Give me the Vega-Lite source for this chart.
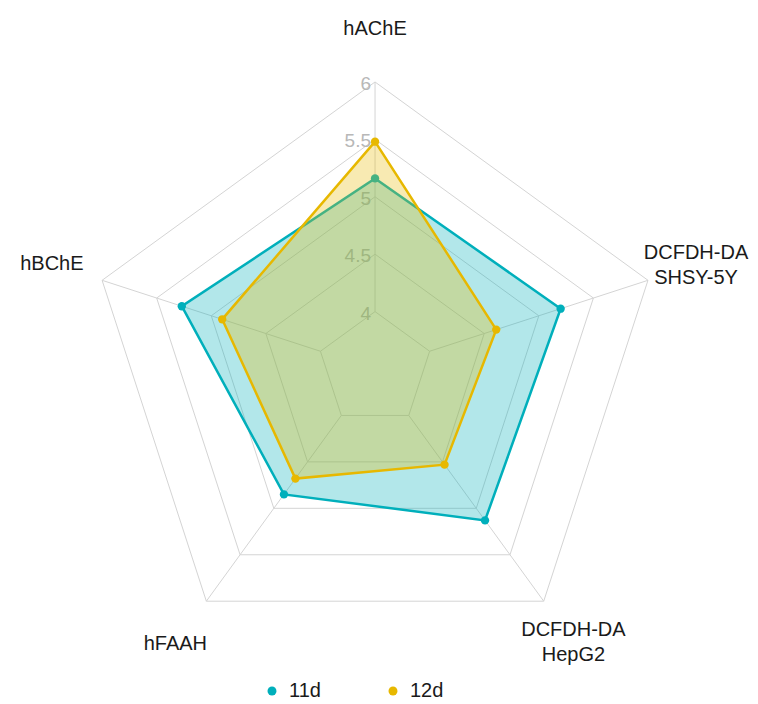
{
  "$schema": "https://vega.github.io/schema/vega-lite/v6.json",
  "width": 758,
  "height": 704,
  "padding": 0,
  "autosize": "none",
  "config": {"view": {"stroke": null}, "font": "Liberation Sans"},
  "datasets": {
    "scores": [
      {"series": "11d", "idx": 0, "value": 5.16},
      {"series": "11d", "idx": 1, "value": 5.2},
      {"series": "11d", "idx": 2, "value": 5.13},
      {"series": "11d", "idx": 3, "value": 4.85},
      {"series": "11d", "idx": 4, "value": 5.27},
      {"series": "12d", "idx": 0, "value": 5.48},
      {"series": "12d", "idx": 1, "value": 4.61},
      {"series": "12d", "idx": 2, "value": 4.53},
      {"series": "12d", "idx": 3, "value": 4.68},
      {"series": "12d", "idx": 4, "value": 4.9}
    ],
    "axes": [
      {"idx": 0, "label": "hAChE", "lines": 1},
      {"idx": 1, "label": "DCFDH-DA\nSHSY-5Y", "lines": 2},
      {"idx": 2, "label": "DCFDH-DA\nHepG2", "lines": 2},
      {"idx": 3, "label": "hFAAH", "lines": 1},
      {"idx": 4, "label": "hBChE", "lines": 1}
    ],
    "grid": [
      {"level": 4, "idx": 0}, {"level": 4, "idx": 1}, {"level": 4, "idx": 2}, {"level": 4, "idx": 3}, {"level": 4, "idx": 4},
      {"level": 4.5, "idx": 0}, {"level": 4.5, "idx": 1}, {"level": 4.5, "idx": 2}, {"level": 4.5, "idx": 3}, {"level": 4.5, "idx": 4},
      {"level": 5, "idx": 0}, {"level": 5, "idx": 1}, {"level": 5, "idx": 2}, {"level": 5, "idx": 3}, {"level": 5, "idx": 4},
      {"level": 5.5, "idx": 0}, {"level": 5.5, "idx": 1}, {"level": 5.5, "idx": 2}, {"level": 5.5, "idx": 3}, {"level": 5.5, "idx": 4},
      {"level": 6, "idx": 0}, {"level": 6, "idx": 1}, {"level": 6, "idx": 2}, {"level": 6, "idx": 3}, {"level": 6, "idx": 4}
    ],
    "levels": [
      {"level": 4, "text": "4"},
      {"level": 4.5, "text": "4.5"},
      {"level": 5, "text": "5"},
      {"level": 5.5, "text": "5.5"},
      {"level": 6, "text": "6"}
    ]
  },
  "layer": [
    {
      "data": {"name": "grid"},
      "transform": [
        {"calculate": "datum.level - 3.5", "as": "r"},
        {"calculate": "datum.r * sin(datum.idx * 2 * PI / 5)", "as": "x"},
        {"calculate": "datum.r * cos(datum.idx * 2 * PI / 5)", "as": "y"}
      ],
      "mark": {"type": "line", "interpolate": "linear-closed", "stroke": "#d4d4d4", "strokeWidth": 1},
      "encoding": {
        "x": {"field": "x", "type": "quantitative", "scale": {"domain": [-3.267, 3.336], "nice": false, "zero": false}, "axis": null},
        "y": {"field": "y", "type": "quantitative", "scale": {"domain": [-2.918, 3.214], "nice": false, "zero": false}, "axis": null},
        "detail": {"field": "level", "type": "nominal"},
        "order": {"field": "idx", "type": "quantitative"}
      }
    },
    {
      "data": {"name": "axes"},
      "transform": [
        {"calculate": "0.5 * sin(datum.idx * 2 * PI / 5)", "as": "x1"},
        {"calculate": "0.5 * cos(datum.idx * 2 * PI / 5)", "as": "y1"},
        {"calculate": "2.5 * sin(datum.idx * 2 * PI / 5)", "as": "x2"},
        {"calculate": "2.5 * cos(datum.idx * 2 * PI / 5)", "as": "y2"}
      ],
      "mark": {"type": "rule", "stroke": "#d4d4d4", "strokeWidth": 1},
      "encoding": {
        "x": {"field": "x1", "type": "quantitative", "scale": {"domain": [-3.267, 3.336], "nice": false, "zero": false}, "axis": null},
        "y": {"field": "y1", "type": "quantitative", "scale": {"domain": [-2.918, 3.214], "nice": false, "zero": false}, "axis": null},
        "x2": {"field": "x2"},
        "y2": {"field": "y2"}
      }
    },
    {
      "data": {"name": "levels"},
      "transform": [
        {"calculate": "0", "as": "x"},
        {"calculate": "datum.level - 3.5", "as": "y"}
      ],
      "mark": {"type": "text", "align": "right", "baseline": "middle", "dx": -4, "dy": 2, "fontSize": 19, "color": "#b8b8b8"},
      "encoding": {
        "x": {"field": "x", "type": "quantitative", "scale": {"domain": [-3.267, 3.336], "nice": false, "zero": false}, "axis": null},
        "y": {"field": "y", "type": "quantitative", "scale": {"domain": [-2.918, 3.214], "nice": false, "zero": false}, "axis": null},
        "text": {"field": "text"}
      }
    },
    {
      "data": {"name": "axes"},
      "transform": [
        {"filter": "datum.lines === 1"},
        {"calculate": "2.96 * sin(datum.idx * 2 * PI / 5)", "as": "x"},
        {"calculate": "2.96 * cos(datum.idx * 2 * PI / 5)", "as": "y"}
      ],
      "mark": {"type": "text", "align": "center", "baseline": "middle", "fontSize": 20, "color": "#1a1a1a"},
      "encoding": {
        "x": {"field": "x", "type": "quantitative", "scale": {"domain": [-3.267, 3.336], "nice": false, "zero": false}, "axis": null},
        "y": {"field": "y", "type": "quantitative", "scale": {"domain": [-2.918, 3.214], "nice": false, "zero": false}, "axis": null},
        "text": {"field": "label"}
      }
    },
    {
      "data": {"name": "axes"},
      "transform": [
        {"filter": "datum.lines === 2"},
        {"calculate": "2.94 * sin(datum.idx * 2 * PI / 5)", "as": "x"},
        {"calculate": "2.94 * cos(datum.idx * 2 * PI / 5)", "as": "y"}
      ],
      "mark": {"type": "text", "align": "center", "baseline": "middle", "dy": -12, "fontSize": 20, "color": "#1a1a1a", "lineBreak": "\n", "lineHeight": 25},
      "encoding": {
        "x": {"field": "x", "type": "quantitative", "scale": {"domain": [-3.267, 3.336], "nice": false, "zero": false}, "axis": null},
        "y": {"field": "y", "type": "quantitative", "scale": {"domain": [-2.918, 3.214], "nice": false, "zero": false}, "axis": null},
        "text": {"field": "label"}
      }
    },
    {
      "data": {"name": "scores"},
      "transform": [
        {"filter": "datum.series === '11d'"},
        {"calculate": "datum.value - 3.5", "as": "r"},
        {"calculate": "datum.r * sin(datum.idx * 2 * PI / 5)", "as": "x"},
        {"calculate": "datum.r * cos(datum.idx * 2 * PI / 5)", "as": "y"}
      ],
      "mark": {"type": "line", "interpolate": "linear-closed", "stroke": "#00AFBB", "strokeWidth": 2.5, "fill": "#00AFBB", "fillOpacity": 0.3},
      "encoding": {
        "x": {"field": "x", "type": "quantitative", "scale": {"domain": [-3.267, 3.336], "nice": false, "zero": false}, "axis": null},
        "y": {"field": "y", "type": "quantitative", "scale": {"domain": [-2.918, 3.214], "nice": false, "zero": false}, "axis": null},
        "order": {"field": "idx", "type": "quantitative"}
      }
    },
    {
      "data": {"name": "scores"},
      "transform": [
        {"filter": "datum.series === '11d'"},
        {"calculate": "datum.value - 3.5", "as": "r"},
        {"calculate": "datum.r * sin(datum.idx * 2 * PI / 5)", "as": "x"},
        {"calculate": "datum.r * cos(datum.idx * 2 * PI / 5)", "as": "y"}
      ],
      "mark": {"type": "point", "filled": true, "opacity": 1, "size": 70},
      "encoding": {
        "x": {"field": "x", "type": "quantitative", "scale": {"domain": [-3.267, 3.336], "nice": false, "zero": false}, "axis": null},
        "y": {"field": "y", "type": "quantitative", "scale": {"domain": [-2.918, 3.214], "nice": false, "zero": false}, "axis": null},
        "color": {"field": "series", "type": "nominal", "scale": {"domain": ["11d", "12d"], "range": ["#00AFBB", "#E7B800"]},
          "legend": {"title": null, "orient": "none", "legendX": 262, "legendY": 681, "direction": "horizontal", "symbolType": "circle", "symbolSize": 80, "labelFontSize": 20, "labelColor": "#1a1a1a", "labelOffset": 7, "columnPadding": 62, "symbolStrokeWidth": 0}}
      }
    },
    {
      "data": {"name": "scores"},
      "transform": [
        {"filter": "datum.series === '12d'"},
        {"calculate": "datum.value - 3.5", "as": "r"},
        {"calculate": "datum.r * sin(datum.idx * 2 * PI / 5)", "as": "x"},
        {"calculate": "datum.r * cos(datum.idx * 2 * PI / 5)", "as": "y"}
      ],
      "mark": {"type": "line", "interpolate": "linear-closed", "stroke": "#E7B800", "strokeWidth": 2.5, "fill": "#E7B800", "fillOpacity": 0.3},
      "encoding": {
        "x": {"field": "x", "type": "quantitative", "scale": {"domain": [-3.267, 3.336], "nice": false, "zero": false}, "axis": null},
        "y": {"field": "y", "type": "quantitative", "scale": {"domain": [-2.918, 3.214], "nice": false, "zero": false}, "axis": null},
        "order": {"field": "idx", "type": "quantitative"}
      }
    },
    {
      "data": {"name": "scores"},
      "transform": [
        {"filter": "datum.series === '12d'"},
        {"calculate": "datum.value - 3.5", "as": "r"},
        {"calculate": "datum.r * sin(datum.idx * 2 * PI / 5)", "as": "x"},
        {"calculate": "datum.r * cos(datum.idx * 2 * PI / 5)", "as": "y"}
      ],
      "mark": {"type": "point", "filled": true, "opacity": 1, "size": 70},
      "encoding": {
        "x": {"field": "x", "type": "quantitative", "scale": {"domain": [-3.267, 3.336], "nice": false, "zero": false}, "axis": null},
        "y": {"field": "y", "type": "quantitative", "scale": {"domain": [-2.918, 3.214], "nice": false, "zero": false}, "axis": null},
        "color": {"field": "series", "type": "nominal", "scale": {"domain": ["11d", "12d"], "range": ["#00AFBB", "#E7B800"]}}
      }
    }
  ]
}
